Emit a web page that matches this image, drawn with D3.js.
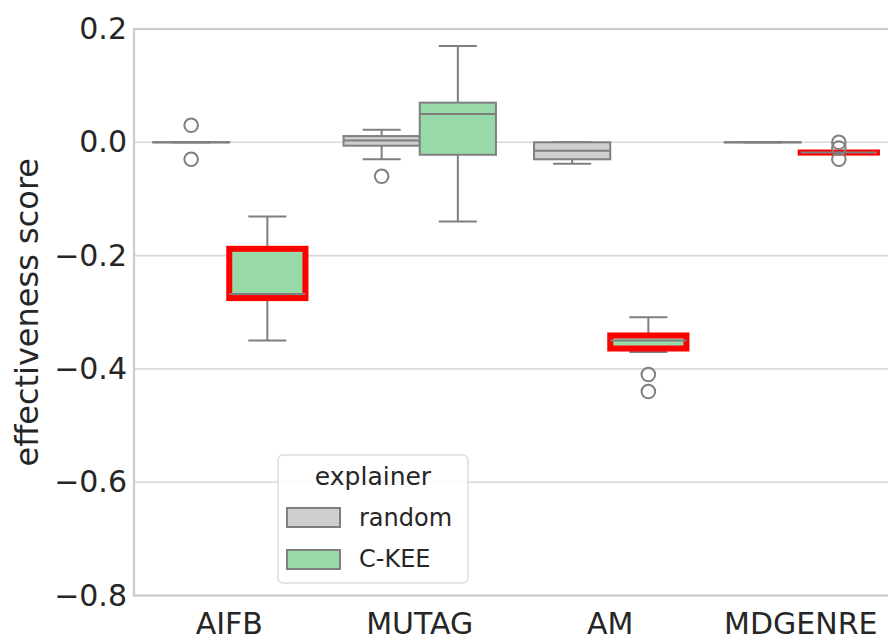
<!DOCTYPE html>
<html>
<head>
<meta charset="utf-8">
<script src="https://cdn.jsdelivr.net/npm/d3@7"></script>
<style>
  body { margin: 0; background: #fff; }
  text { font-family: "DejaVu Sans", sans-serif; fill: #262626; }
</style>
</head>
<body>
<div id="chart"></div>
<script>
var categories = ["AIFB", "MUTAG", "AM", "MDGENRE"];
var explainers = ["random", "C-KEE"];
var yTicks = [0.2, 0.0, -0.2, -0.4, -0.6, -0.8];

// [whisker low, q1, median, q3, whisker high]
var randomStats = [
  [0, 0, 0, 0, 0],
  [-0.03, -0.006, 0.003, 0.011, 0.022],
  [-0.038, -0.03, -0.015, 0, 0],
  [0, 0, 0, 0, 0]
];
var randomOutliers = [[0.03, -0.03], [-0.06], [], []];

var ckeeStats = [
  [-0.35, -0.275, -0.268, -0.188, -0.131],
  [-0.14, -0.022, 0.05, 0.07, 0.17],
  [-0.37, -0.364, -0.35, -0.341, -0.309],
  [-0.018, -0.018, -0.018, -0.018, -0.018]
];
var ckeeOutliers = [[], [], [-0.41, -0.44], [0.0, -0.01, -0.03]];

// C-KEE boxes outlined in red
var highlighted = ["AIFB", "AM", "MDGENRE"];

var colors = { "random": "#cfcfcf", "C-KEE": "#98daa7" };
var lineColor = "#7f7f7f";

var svgWidth = 888;
var svgHeight = 642;

var svg = d3.select("#chart")
  .append("svg")
  .attr("width", svgWidth)
  .attr("height", svgHeight);

var xScale = d3.scaleBand()
  .domain(categories)
  .range([134, 896])
  .padding(0);

var hueScale = d3.scaleBand()
  .domain(explainers)
  .range([0, xScale.bandwidth()])
  .paddingOuter(0.25)
  .paddingInner(0);

var yScale = d3.scaleLinear()
  .domain([-0.8, 0.2])
  .range([595.5, 29]);

// grid
svg.append("g")
  .selectAll("line")
  .data(yTicks)
  .enter()
  .append("line")
  .attr("x1", 134)
  .attr("x2", 896)
  .attr("y1", d => yScale(d))
  .attr("y2", d => yScale(d))
  .attr("stroke", "#d9d9d9")
  .attr("stroke-width", 1.6);

// spines
svg.append("rect")
  .attr("x", 134)
  .attr("y", 29)
  .attr("width", 762)
  .attr("height", 566.5)
  .attr("fill", "none")
  .attr("stroke", "#cccccc")
  .attr("stroke-width", 2.2);

// y axis
var leftAxis = d3.axisLeft(yScale)
  .tickValues(yTicks)
  .tickSize(0)
  .tickPadding(7)
  .tickFormat(d3.format(".1f"));

var yAxis = svg.append("g")
  .attr("transform", "translate(134,0)")
  .call(leftAxis);
yAxis.select(".domain").remove();
yAxis.selectAll("text")
  .attr("font-size", 30)
  .attr("fill", "#262626")
  .style("font-family", "DejaVu Sans")
  .text(d => d3.format(".1f")(d).replace("-", "\u2212"));

// x axis
var bottomAxis = d3.axisBottom(xScale).tickSize(0).tickPadding(17);
var xAxis = svg.append("g")
  .attr("transform", "translate(0,595.5)")
  .call(bottomAxis);
xAxis.select(".domain").remove();
xAxis.selectAll("text")
  .attr("font-size", 30)
  .attr("fill", "#262626")
  .style("font-family", "DejaVu Sans");

svg.append("text")
  .attr("transform", "translate(38," + yScale(-0.3) + ") rotate(-90)")
  .attr("text-anchor", "middle")
  .attr("font-size", 32)
  .text("effectiveness score");

// boxes
var boxes = [];
categories.forEach(function(cat, i) {
  boxes.push({ cat: cat, hue: "random", s: randomStats[i], out: randomOutliers[i] });
  boxes.push({ cat: cat, hue: "C-KEE", s: ckeeStats[i], out: ckeeOutliers[i] });
});

var boxGroup = svg.append("g");
boxes.forEach(function(b) {
  var x0 = xScale(b.cat) + hueScale(b.hue);
  var w = hueScale.bandwidth();
  var cx = x0 + w / 2;
  var g = boxGroup.append("g");
  var red = b.hue === "C-KEE" && highlighted.indexOf(b.cat) >= 0;

  // whiskers
  g.append("line")
    .attr("x1", cx).attr("x2", cx)
    .attr("y1", yScale(b.s[4])).attr("y2", yScale(b.s[3]))
    .attr("stroke", lineColor).attr("stroke-width", 2);
  g.append("line")
    .attr("x1", cx).attr("x2", cx)
    .attr("y1", yScale(b.s[1])).attr("y2", yScale(b.s[0]))
    .attr("stroke", lineColor).attr("stroke-width", 2);
  // caps
  [b.s[0], b.s[4]].forEach(function(v) {
    g.append("line")
      .attr("x1", cx - w / 4).attr("x2", cx + w / 4)
      .attr("y1", yScale(v)).attr("y2", yScale(v))
      .attr("stroke", lineColor).attr("stroke-width", 2);
  });
  // box
  g.append("rect")
    .attr("x", x0)
    .attr("y", yScale(b.s[3]))
    .attr("width", w)
    .attr("height", Math.max(0.1, yScale(b.s[1]) - yScale(b.s[3])))
    .attr("fill", colors[b.hue])
    .attr("stroke", red ? "#ff0000" : lineColor)
    .attr("stroke-width", red ? 6 : 2);
  // median
  g.append("line")
    .attr("x1", x0).attr("x2", x0 + w)
    .attr("y1", yScale(b.s[2])).attr("y2", yScale(b.s[2]))
    .attr("stroke", lineColor).attr("stroke-width", 2);
  // outliers
  g.selectAll("circle")
    .data(b.out)
    .enter()
    .append("circle")
    .attr("cx", cx)
    .attr("cy", d => yScale(d))
    .attr("r", 6.8)
    .attr("fill", "none")
    .attr("stroke", lineColor)
    .attr("stroke-width", 2);
});

// legend
var legend = svg.append("g").attr("transform", "translate(278,455)");
legend.append("rect")
  .attr("width", 190)
  .attr("height", 128)
  .attr("rx", 5)
  .attr("fill", "#ffffff")
  .attr("fill-opacity", 0.85)
  .attr("stroke", "#dddddd")
  .attr("stroke-width", 1.5);
legend.append("text")
  .attr("x", 95)
  .attr("y", 30)
  .attr("text-anchor", "middle")
  .attr("font-size", 25)
  .text("explainer");
explainers.forEach(function(name, i) {
  legend.append("rect")
    .attr("x", 9)
    .attr("y", 53 + i * 42)
    .attr("width", 53)
    .attr("height", 19)
    .attr("fill", colors[name])
    .attr("stroke", lineColor)
    .attr("stroke-width", 2);
  legend.append("text")
    .attr("x", 81)
    .attr("y", 71 + i * 41)
    .attr("font-size", 24)
    .text(name);
});
</script>
</body>
</html>
